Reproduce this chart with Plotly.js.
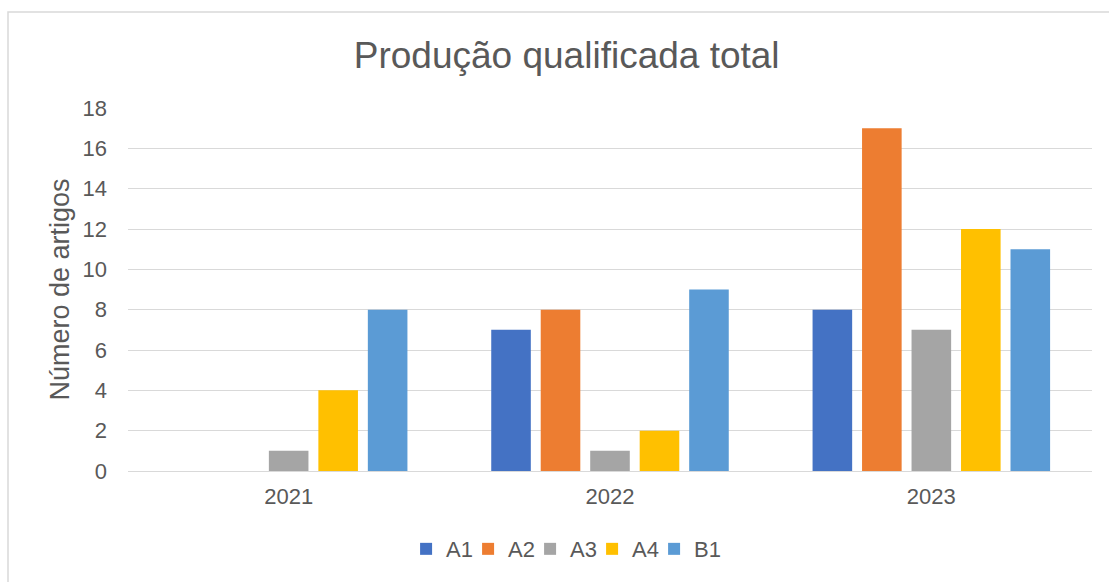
<!DOCTYPE html>
<html>
<head>
<meta charset="utf-8">
<script src="https://cdn.plot.ly/plotly-3.0.1.min.js"></script>
<style>html,body{margin:0;padding:0;background:#fff;}#chart{width:1109px;height:582px;}</style>
</head>
<body>
<div id="chart"></div>
<script>
const years = ["2021", "2022", "2023"];
const seriesNames = ["A1", "A2", "A3", "A4", "B1"];
const A1 = [0, 7, 8];
const A2 = [0, 8, 17];
const A3 = [1, 1, 7];
const A4 = [4, 2, 12];
const B1 = [8, 9, 11];
const colors = ["#4472C4", "#ED7D31", "#A5A5A5", "#FFC000", "#5B9BD5"];
const values = [A1, A2, A3, A4, B1];

const traces = seriesNames.map((n, i) => {
  const t = {type: "bar", name: n, x: years, y: values[i],
    marker: {color: colors[i]}, hoverinfo: "x+y+name"};
  if (i === seriesNames.length - 1) t.legendwidth = 30;
  return t;
});

const font = {family: "Liberation Sans, Arial, sans-serif", color: "#595959"};
const layout = {
  width: 1109, height: 582,
  margin: {l: 128, r: 17, t: 108, b: 111},
  paper_bgcolor: "#fff", plot_bgcolor: "#fff",
  font: Object.assign({size: 22}, font),
  title: {text: "Produção qualificada total", font: Object.assign({size: 37}, font),
          x: 0.511, xanchor: "center", xref: "container", y: 0.905, yanchor: "middle", yref: "container"},
  barmode: "group", bargap: 0.23, bargroupgap: 0.2,
  xaxis: {type: "category", showgrid: false, showline: false, zeroline: false, ticks: "",
          ticklabelstandoff: 10,
          tickfont: Object.assign({size: 22}, font), fixedrange: true},
  yaxis: {range: [0, 18], dtick: 2, showgrid: true, gridcolor: "#D9D9D9", gridwidth: 1,
          zeroline: true, zerolinecolor: "#D9D9D9", zerolinewidth: 1, showline: false, ticks: "",
          ticklabelstandoff: 20,
          tickfont: Object.assign({size: 22}, font),
          title: {text: "Número de artigos", font: Object.assign({size: 27}, font), standoff: 5}},
  legend: {orientation: "h", x: 0.456, xanchor: "center", y: -0.215, yanchor: "middle",
           font: Object.assign({size: 22}, font), itemwidth: 30, entrywidth: 17, traceorder: "normal"},
  shapes: [{type: "rect", xref: "paper", yref: "paper",
            x0: -120/964, x1: 1.1, y0: -0.4, y1: (471-12)/363,
            line: {color: "#D9D9D9", width: 1.5}, fillcolor: "rgba(0,0,0,0)", layer: "below"}],
  showlegend: true
};
Plotly.newPlot("chart", traces, layout, {displayModeBar: false, staticPlot: true});
</script>
</body>
</html>
